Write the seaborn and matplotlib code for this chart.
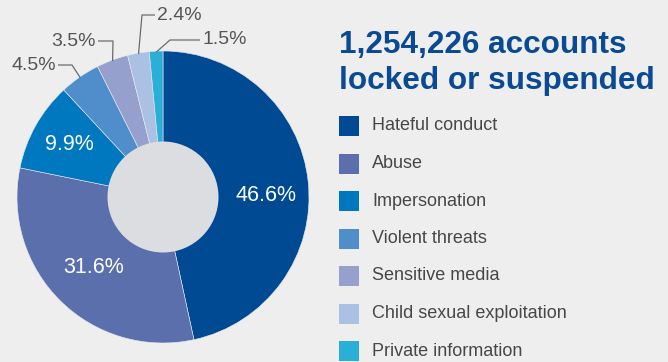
import numpy as np
import matplotlib
matplotlib.use("Agg")
import matplotlib.pyplot as plt
from matplotlib.patches import Circle, Rectangle
import seaborn as sns

# Accounts locked or suspended, share by policy category
categories = ["Hateful conduct", "Abuse", "Impersonation", "Violent threats",
              "Sensitive media", "Child sexual exploitation", "Private information"]
shares = [46.6, 31.6, 9.9, 4.5, 3.5, 2.4, 1.5]
colors = ["#004a94", "#5a6fab", "#0078bf", "#4f8dcb", "#95a0cc", "#aac1e3", "#2bafd7"]
title_text = "1,254,226 accounts\nlocked or suspended"

sns.set_theme(style="white")
plt.rcParams["font.family"] = ["Liberation Sans", "DejaVu Sans"]

W, H = 668, 362
BG = "#eeeeee"
fig = plt.figure(figsize=(W / 100, H / 100), dpi=100, facecolor=BG)
ax = fig.add_axes([0, 0, 1, 1])
ax.set_facecolor(BG)


def Y(y):
    """Convert a top-down pixel row to axis units."""
    return H - y


cx, cy, R = 163, Y(197), 146
wedges, _ = ax.pie(shares, colors=colors, startangle=90, counterclock=False,
                   center=(cx, cy), radius=R, frame=True,
                   wedgeprops=dict(linewidth=0.4, edgecolor="#e8ecf4"))
ax.set_xlim(0, W)
ax.set_ylim(0, H)
ax.set_aspect("equal")
ax.axis("off")

ax.add_patch(Circle((cx, cy), 55.5, facecolor="#dcdde0", edgecolor="none", zorder=3))

# wedge mid-angles (degrees, counter-clockwise from +x)
mids = []
start = 90.0
for s in shares:
    span = s * 3.6
    mids.append(start - span / 2)
    start -= span

# labels inside the three large wedges
inner_dist = [104, 99, 107]
inner_shift = [-10, 0, 0]
for i in range(3):
    a = np.radians(mids[i])
    x = cx + inner_dist[i] * np.cos(a)
    y = cy + inner_dist[i] * np.sin(a) + inner_shift[i]
    ax.text(x, y, f"{shares[i]}%", color="white", fontsize=15.5,
            ha="center", va="center", zorder=4)

# leader-line labels for the small wedges: (elbow, line end, text anchor, ha)
outer = {
    3: ((72, 65), (58, 65), "right"),
    4: ((113, 41), (98, 41), "right"),
    5: ((142, 15), (155, 15), "left"),
    6: ((170, 40), (200, 40), "left"),
}
for i, (elbow, end, ha) in outer.items():
    a = np.radians(mids[i])
    sx, sy = cx + (R - 1) * np.cos(a), cy + (R - 1) * np.sin(a)
    ax.plot([sx, elbow[0], end[0]], [sy, Y(elbow[1]), Y(end[1])],
            color="#6b6b6b", linewidth=0.9, solid_capstyle="butt", zorder=5)
    tx = end[0] - 2 if ha == "right" else end[0] + 2
    ax.text(tx, Y(end[1]), f"{shares[i]}%", color="#555555", fontsize=14,
            ha=ha, va="center", zorder=5)

# heading
ax.text(339, Y(63), title_text, color="#0a4a94", fontsize=22.7,
        fontweight="bold", ha="left", va="center", linespacing=1.3)

# legend
for k, (cat, col) in enumerate(zip(categories, colors)):
    yc = 126 + k * 37.5
    ax.add_patch(Rectangle((339, Y(yc) - 10), 20, 20, facecolor=col,
                           edgecolor="none"))
    ax.text(372, Y(yc), cat, color="#474747", fontsize=13,
            ha="left", va="center")

fig.savefig("out.png", dpi=100, facecolor=BG)
